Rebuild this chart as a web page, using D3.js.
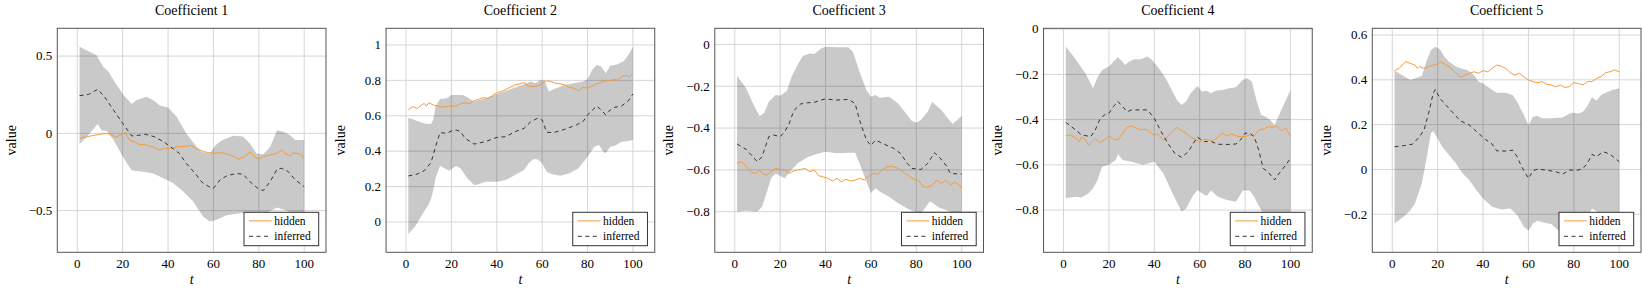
<!DOCTYPE html>
<html>
<head>
<meta charset="utf-8">
<script src="https://cdn.jsdelivr.net/npm/d3@7"></script>
<style>
  body { margin: 0; background: #fff; }
  svg { display: block; }
</style>
</head>
<body>
<div id="chart"></div>
<script>
// ---- data: [t, value] ----
var titles = ["Coefficient 1", "Coefficient 2", "Coefficient 3", "Coefficient 4", "Coefficient 5"];
var xTicks = [0, 20, 40, 60, 80, 100];
var yTicks1 = [-0.5, 0, 0.5];
var yTicks2 = [0, 0.2, 0.4, 0.6, 0.8, 1];
var yTicks3 = [-0.8, -0.6, -0.4, -0.2, 0];
var yTicks4 = [-0.8, -0.6, -0.4, -0.2, 0];
var yTicks5 = [-0.2, 0, 0.2, 0.4, 0.6];
var yDomains = [[-0.77, 0.68], [-0.171, 1.094], [-0.994, 0.077], [-0.987, 0.004], [-0.37, 0.63]];

var upper1 = [[1,0.56],[8.5,0.506],[11.5,0.43],[13.7,0.40],[16.6,0.33],[20.3,0.25],[24,0.19],[26,0.215],[30.5,0.237],[33.5,0.215],[36.4,0.18],[40,0.168],[43.8,0.108],[48,0],[52.6,-0.086],[54.8,-0.12],[58.4,-0.13],[61,-0.075],[64,-0.043],[68.7,-0.015],[73,-0.02],[76,-0.065],[79,-0.13],[82,-0.136],[85,-0.086],[88,0.02],[90.7,0.01],[93.7,-0.01],[96,-0.043],[100,-0.043]];
var lower1 = [[1,-0.07],[4,-0.026],[9,0.06],[10.7,0.02],[13,0.015],[16,-0.043],[20,-0.15],[24,-0.24],[29,-0.248],[33.5,-0.26],[38,-0.29],[42,-0.32],[46.7,-0.377],[51,-0.44],[55.5,-0.54],[58.4,-0.57],[61.4,-0.56],[65.8,-0.53],[71.7,-0.517],[77.5,-0.51],[83.4,-0.517],[88,-0.48],[92,-0.5],[100,-0.55]];
var hidden1 = [[1,-0.032],[5,-0.02],[10,-0.005],[13,0],[15,-0.01],[17,-0.026],[19,-0.011],[21,0.005],[23,-0.043],[25,-0.054],[27,-0.07],[30,-0.075],[33,-0.086],[36,-0.108],[39,-0.097],[42,-0.097],[44,-0.086],[47,-0.086],[50,-0.078],[53,-0.103],[56,-0.119],[58,-0.125],[60,-0.13],[63,-0.125],[66,-0.134],[69,-0.15],[71,-0.168],[74,-0.15],[76,-0.119],[78,-0.15],[80,-0.168],[82,-0.15],[85,-0.14],[88,-0.13],[90,-0.108],[92,-0.134],[94,-0.147],[95,-0.125],[98,-0.134],[100,-0.162]];
var inferred1 = [[1,0.244],[5,0.252],[9,0.285],[12,0.237],[16,0.15],[20,0.065],[24,-0.017],[27,-0.013],[30,-0.006],[34,-0.022],[38,-0.054],[42,-0.097],[45,-0.13],[48,-0.194],[52,-0.26],[55,-0.317],[58,-0.345],[60,-0.356],[63,-0.30],[66,-0.274],[70,-0.26],[73,-0.264],[76,-0.312],[80,-0.362],[82,-0.37],[85,-0.312],[88,-0.233],[90,-0.226],[93,-0.248],[96,-0.30],[100,-0.345]];

var upper2 = [[1,0.589],[5,0.571],[8,0.557],[11,0.554],[12,0.578],[13,0.652],[15,0.695],[18,0.699],[20,0.717],[25,0.717],[27,0.704],[30,0.68],[35,0.699],[40,0.723],[45,0.746],[50,0.768],[55,0.793],[57,0.783],[59,0.80],[61,0.80],[63,0.736],[65,0.75],[70,0.774],[75,0.787],[78,0.793],[80,0.806],[82,0.859],[84,0.887],[86,0.878],[88,0.84],[90,0.883],[93,0.89],[96,0.91],[98,0.944],[100,0.99]];
var lower2 = [[1,-0.068],[4,-0.026],[7,0.04],[10,0.10],[11,0.128],[12,0.18],[13,0.247],[15,0.318],[17,0.303],[19,0.29],[22,0.316],[24,0.303],[27,0.247],[30,0.209],[32,0.213],[35,0.228],[40,0.228],[44,0.237],[48,0.265],[52,0.294],[54,0.331],[56,0.354],[58,0.354],[60,0.331],[62,0.284],[64,0.271],[68,0.262],[72,0.275],[76,0.303],[80,0.369],[83,0.425],[85,0.435],[87,0.397],[88,0.388],[90,0.425],[92,0.431],[95,0.454],[98,0.458],[100,0.463]];
var hidden2 = [[1,0.633],[3,0.652],[5,0.642],[6,0.652],[8,0.67],[9,0.655],[10,0.674],[12,0.661],[14,0.655],[16,0.648],[18,0.652],[20,0.655],[22,0.655],[24,0.667],[26,0.674],[28,0.667],[30,0.685],[32,0.693],[34,0.702],[36,0.699],[38,0.712],[40,0.731],[42,0.736],[45,0.755],[48,0.774],[50,0.78],[52,0.787],[54,0.768],[56,0.765],[58,0.768],[60,0.783],[62,0.798],[64,0.793],[66,0.783],[68,0.78],[70,0.774],[72,0.761],[74,0.755],[76,0.742],[78,0.761],[80,0.755],[82,0.768],[84,0.78],[86,0.787],[88,0.798],[90,0.798],[92,0.806],[93,0.798],[95,0.821],[97,0.83],[98,0.817],[100,0.84]];
var inferred2 = [[1,0.26],[5,0.271],[8,0.29],[11,0.335],[13,0.425],[15,0.505],[18,0.501],[20,0.514],[22,0.52],[24,0.511],[26,0.473],[30,0.44],[35,0.454],[40,0.478],[44,0.482],[48,0.51],[52,0.529],[55,0.567],[58,0.586],[60,0.576],[62,0.507],[65,0.505],[70,0.524],[75,0.548],[78,0.567],[80,0.605],[84,0.655],[86,0.633],[88,0.605],[90,0.633],[92,0.648],[95,0.655],[98,0.685],[100,0.723]];

var upper3 = [[1,-0.15],[5,-0.21],[8,-0.282],[11,-0.343],[13,-0.327],[15,-0.274],[18,-0.242],[20,-0.245],[23,-0.222],[25,-0.155],[28,-0.091],[30,-0.056],[33,-0.043],[35,-0.046],[38,-0.019],[40,-0.011],[45,-0.014],[50,-0.014],[52,-0.035],[55,-0.131],[58,-0.218],[60,-0.25],[62,-0.242],[64,-0.255],[68,-0.25],[72,-0.282],[76,-0.338],[78,-0.365],[80,-0.375],[82,-0.362],[85,-0.322],[87,-0.274],[88,-0.285],[91,-0.314],[94,-0.354],[96,-0.381],[98,-0.362],[100,-0.341]];
var lower3 = [[1,-0.80],[5,-0.795],[10,-0.80],[12,-0.776],[14,-0.712],[16,-0.64],[18,-0.617],[22,-0.64],[25,-0.60],[28,-0.566],[32,-0.54],[36,-0.524],[40,-0.513],[45,-0.52],[50,-0.518],[53,-0.518],[55,-0.569],[58,-0.657],[60,-0.71],[62,-0.688],[64,-0.704],[68,-0.728],[72,-0.76],[76,-0.784],[78,-0.795],[82,-0.81],[86,-0.75],[90,-0.78],[100,-0.82]];
var hidden3 = [[1,-0.569],[3,-0.561],[5,-0.582],[7,-0.609],[9,-0.617],[11,-0.60],[12,-0.617],[14,-0.625],[16,-0.609],[18,-0.593],[20,-0.598],[22,-0.60],[24,-0.617],[26,-0.604],[28,-0.60],[31,-0.593],[33,-0.609],[35,-0.60],[37,-0.628],[39,-0.633],[41,-0.64],[43,-0.653],[45,-0.64],[47,-0.657],[49,-0.645],[51,-0.653],[53,-0.649],[55,-0.64],[57,-0.649],[59,-0.63],[61,-0.617],[63,-0.621],[65,-0.60],[67,-0.585],[69,-0.582],[71,-0.588],[73,-0.60],[75,-0.617],[77,-0.63],[79,-0.645],[81,-0.649],[83,-0.68],[85,-0.683],[87,-0.673],[89,-0.649],[91,-0.665],[93,-0.649],[95,-0.673],[97,-0.657],[99,-0.673],[100,-0.688]];
var inferred3 = [[1,-0.476],[5,-0.502],[10,-0.561],[12,-0.537],[15,-0.441],[17,-0.433],[20,-0.441],[22,-0.418],[24,-0.378],[26,-0.317],[29,-0.285],[32,-0.279],[35,-0.277],[38,-0.266],[40,-0.261],[45,-0.266],[50,-0.263],[53,-0.282],[55,-0.362],[58,-0.457],[60,-0.483],[62,-0.457],[65,-0.473],[70,-0.497],[73,-0.521],[76,-0.569],[78,-0.593],[82,-0.598],[85,-0.569],[88,-0.518],[90,-0.537],[93,-0.577],[95,-0.617],[100,-0.62]];

var upper4 = [[1,-0.077],[5,-0.128],[10,-0.202],[13,-0.261],[15,-0.213],[17,-0.18],[20,-0.165],[22,-0.143],[24,-0.124],[26,-0.143],[27,-0.158],[29,-0.143],[31,-0.133],[34,-0.133],[37,-0.121],[39,-0.136],[42,-0.173],[45,-0.217],[48,-0.276],[50,-0.313],[52,-0.335],[54,-0.32],[56,-0.283],[59,-0.251],[61,-0.276],[63,-0.272],[65,-0.283],[67,-0.272],[70,-0.269],[73,-0.261],[76,-0.257],[79,-0.224],[81,-0.217],[83,-0.232],[85,-0.313],[87,-0.379],[89,-0.387],[91,-0.401],[93,-0.424],[96,-0.357],[100,-0.269]];
var lower4 = [[1,-0.748],[5,-0.741],[8,-0.745],[11,-0.726],[13,-0.704],[15,-0.667],[17,-0.608],[20,-0.60],[23,-0.579],[24,-0.552],[26,-0.579],[30,-0.586],[35,-0.60],[40,-0.586],[44,-0.638],[48,-0.726],[52,-0.807],[54,-0.793],[57,-0.738],[59,-0.711],[61,-0.726],[63,-0.738],[65,-0.714],[68,-0.741],[72,-0.756],[76,-0.763],[79,-0.714],[82,-0.714],[84,-0.741],[87,-0.80],[90,-0.84],[100,-0.9]];
var hidden4 = [[1,-0.472],[3,-0.468],[5,-0.478],[7,-0.497],[8,-0.475],[10,-0.493],[11,-0.515],[13,-0.493],[14,-0.483],[16,-0.502],[18,-0.49],[20,-0.472],[22,-0.487],[24,-0.49],[26,-0.46],[28,-0.434],[30,-0.428],[32,-0.438],[34,-0.446],[36,-0.443],[38,-0.453],[40,-0.472],[41,-0.46],[44,-0.49],[46,-0.475],[48,-0.453],[50,-0.434],[52,-0.449],[54,-0.46],[56,-0.478],[58,-0.487],[60,-0.497],[62,-0.487],[64,-0.49],[66,-0.493],[68,-0.478],[70,-0.46],[72,-0.472],[74,-0.463],[76,-0.472],[78,-0.475],[80,-0.475],[82,-0.468],[84,-0.472],[86,-0.446],[88,-0.443],[90,-0.431],[92,-0.434],[94,-0.428],[96,-0.449],[98,-0.438],[100,-0.475]];
var inferred4 = [[1,-0.412],[5,-0.443],[8,-0.468],[12,-0.475],[14,-0.446],[16,-0.399],[18,-0.379],[20,-0.372],[22,-0.342],[24,-0.32],[26,-0.342],[28,-0.365],[30,-0.357],[34,-0.357],[37,-0.357],[40,-0.394],[43,-0.453],[46,-0.505],[49,-0.549],[52,-0.567],[55,-0.542],[57,-0.508],[59,-0.478],[62,-0.497],[65,-0.497],[68,-0.509],[72,-0.51],[76,-0.508],[78,-0.49],[80,-0.46],[82,-0.46],[84,-0.475],[86,-0.534],[88,-0.616],[90,-0.63],[93,-0.667],[95,-0.638],[98,-0.60],[100,-0.571]];

var upper5 = [[1,0.441],[5,0.417],[8,0.399],[10,0.406],[13,0.417],[15,0.481],[17,0.533],[19,0.548],[21,0.536],[23,0.503],[25,0.481],[28,0.459],[31,0.448],[33,0.444],[36,0.421],[38,0.392],[40,0.384],[43,0.362],[46,0.342],[50,0.342],[53,0.332],[55,0.302],[58,0.243],[60,0.198],[62,0.235],[64,0.238],[66,0.228],[70,0.228],[75,0.232],[77,0.243],[79,0.253],[82,0.25],[84,0.258],[86,0.283],[88,0.322],[90,0.307],[92,0.332],[94,0.342],[97,0.354],[100,0.362]];
var lower5 = [[1,-0.241],[5,-0.211],[8,-0.182],[10,-0.152],[13,-0.063],[15,0.042],[17,0.161],[18,0.171],[20,0.138],[22,0.101],[25,0.064],[28,0.027],[31,-0.018],[34,-0.048],[37,-0.092],[40,-0.13],[44,-0.167],[48,-0.179],[52,-0.174],[55,-0.204],[58,-0.256],[60,-0.274],[62,-0.241],[64,-0.229],[67,-0.238],[70,-0.244],[73,-0.271],[80,-0.29],[85,-0.24],[88,-0.175],[92,-0.2],[100,-0.28]];
var hidden5 = [[1,0.441],[3,0.451],[5,0.473],[6,0.481],[8,0.473],[10,0.466],[11,0.451],[12,0.459],[14,0.451],[16,0.459],[18,0.466],[20,0.47],[21,0.481],[23,0.47],[25,0.459],[27,0.441],[29,0.421],[30,0.411],[32,0.421],[34,0.429],[36,0.436],[38,0.429],[40,0.441],[42,0.436],[44,0.451],[46,0.466],[48,0.461],[50,0.451],[52,0.432],[54,0.421],[56,0.429],[58,0.414],[60,0.399],[62,0.392],[64,0.387],[66,0.392],[68,0.381],[70,0.377],[72,0.369],[74,0.377],[76,0.366],[78,0.369],[80,0.387],[82,0.384],[84,0.377],[86,0.392],[88,0.392],[90,0.406],[92,0.414],[94,0.432],[96,0.436],[98,0.444],[100,0.436]];
var inferred5 = [[1,0.101],[5,0.106],[9,0.113],[12,0.146],[14,0.176],[16,0.25],[18,0.339],[19,0.357],[21,0.317],[25,0.272],[30,0.217],[34,0.198],[38,0.161],[41,0.134],[44,0.113],[46,0.083],[50,0.082],[53,0.086],[55,0.057],[57,0.012],[60,-0.04],[62,-0.006],[64,0.001],[68,-0.003],[72,-0.01],[75,-0.021],[78,-0.003],[82,-0.003],[84,0.004],[86,0.027],[88,0.067],[90,0.057],[93,0.079],[96,0.068],[100,0.034]];

var panels = [
    { upper: upper1, lower: lower1, hidden: hidden1, inferred: inferred1, yTicks: yTicks1 },
    { upper: upper2, lower: lower2, hidden: hidden2, inferred: inferred2, yTicks: yTicks2 },
    { upper: upper3, lower: lower3, hidden: hidden3, inferred: inferred3, yTicks: yTicks3 },
    { upper: upper4, lower: lower4, hidden: hidden4, inferred: inferred4, yTicks: yTicks4 },
    { upper: upper5, lower: lower5, hidden: hidden5, inferred: inferred5, yTicks: yTicks5 }
];

var W = 1643, H = 289;
var plotTop = 28.3, plotBottom = 252.3, plotW = 268.7, firstLeft = 57.3, step = 328.75;
var orange = "#f7993a";

var svg = d3.select("#chart").append("svg")
    .attr("width", W).attr("height", H)
    .style("font-family", "'Liberation Serif'").style("font-weight", "normal");

function fmt(v) {
    var s = String(Math.round(v * 10) / 10);
    return s.replace("-", "\u2212");
}

panels.forEach(function (p, i) {
    var left = firstLeft + i * step;
    var x = d3.scaleLinear().domain([-8.8, 109.6]).range([left, left + plotW]);
    var y = d3.scaleLinear().domain(yDomains[i]).range([plotBottom, plotTop]);
    var g = svg.append("g");

    var clipId = "clip" + i;
    svg.append("clipPath").attr("id", clipId).append("rect")
        .attr("x", left).attr("y", plotTop).attr("width", plotW).attr("height", plotBottom - plotTop);

    // grid
    g.selectAll(".vg").data(xTicks).enter().append("line")
        .attr("x1", d => x(d)).attr("x2", d => x(d))
        .attr("y1", plotTop).attr("y2", plotBottom)
        .attr("stroke", "#d6d6d6").attr("stroke-width", 1);
    g.selectAll(".hg").data(p.yTicks).enter().append("line")
        .attr("x1", left).attr("x2", left + plotW)
        .attr("y1", d => y(d)).attr("y2", d => y(d))
        .attr("stroke", "#d6d6d6").attr("stroke-width", 1);

    var line = d3.line().x(d => x(d[0])).y(d => y(d[1]));
    var inner = g.append("g").attr("clip-path", "url(#" + clipId + ")");

    // confidence band: upper forward, lower backward
    var poly = p.upper.concat(p.lower.slice().reverse());
    inner.append("path").attr("d", line(poly) + "Z")
        .attr("fill", "#000").attr("fill-opacity", 0.21).attr("stroke", "none");

    inner.append("path").attr("d", line(p.hidden))
        .attr("fill", "none").attr("stroke", orange).attr("stroke-width", 1);
    inner.append("path").attr("d", line(p.inferred))
        .attr("fill", "none").attr("stroke", "#222").attr("stroke-width", 0.9)
        .attr("stroke-dasharray", "4,3.5");

    // frame
    g.append("rect").attr("x", left).attr("y", plotTop)
        .attr("width", plotW).attr("height", plotBottom - plotTop)
        .attr("fill", "none").attr("stroke", "#555").attr("stroke-width", 1);

    // tick labels
    g.selectAll(".xt").data(xTicks).enter().append("text")
        .attr("x", d => x(d)).attr("y", plotBottom + 16)
        .attr("text-anchor", "middle").attr("font-size", 13)
        .text(d => d);
    g.selectAll(".yt").data(p.yTicks).enter().append("text")
        .attr("x", left - 5).attr("y", d => y(d)).attr("dy", "0.33em")
        .attr("text-anchor", "end").attr("font-size", 13)
        .text(fmt);

    // titles and axis labels
    g.append("text").attr("x", left + plotW / 2).attr("y", 15)
        .attr("text-anchor", "middle").attr("font-size", 14).text(titles[i]);
    g.append("text").attr("x", left + plotW / 2).attr("y", 284)
        .attr("text-anchor", "middle").attr("font-size", 14).attr("font-style", "italic").text("t");
    g.append("text")
        .attr("transform", "translate(" + (left - 46) + "," + ((plotTop + plotBottom) / 2) + ") rotate(-90)")
        .attr("dy", "0.33em")
        .attr("text-anchor", "middle").attr("font-size", 14).text("value");

    // legend
    var lw = 74.7, lh = 33.4;
    var lx = left + plotW - 7.3 - lw, ly = plotBottom - 6.6 - lh;
    var lg = g.append("g");
    lg.append("rect").attr("x", lx).attr("y", ly).attr("width", lw).attr("height", lh)
        .attr("fill", "#fff").attr("stroke", "#333").attr("stroke-width", 1);
    lg.append("line").attr("x1", lx + 5).attr("x2", lx + 27.7)
        .attr("y1", ly + 8.6).attr("y2", ly + 8.6)
        .attr("stroke", orange).attr("stroke-width", 1);
    lg.append("line").attr("x1", lx + 5).attr("x2", lx + 27.7)
        .attr("y1", ly + 24).attr("y2", ly + 24)
        .attr("stroke", "#222").attr("stroke-width", 0.9).attr("stroke-dasharray", "4,3.5");
    lg.append("text").attr("x", lx + 30.3).attr("y", ly + 8.6).attr("dy", "0.33em")
        .attr("font-size", 11.5).text("hidden");
    lg.append("text").attr("x", lx + 30.3).attr("y", ly + 24).attr("dy", "0.33em")
        .attr("font-size", 11.5).text("inferred");
});
</script>
</body>
</html>
